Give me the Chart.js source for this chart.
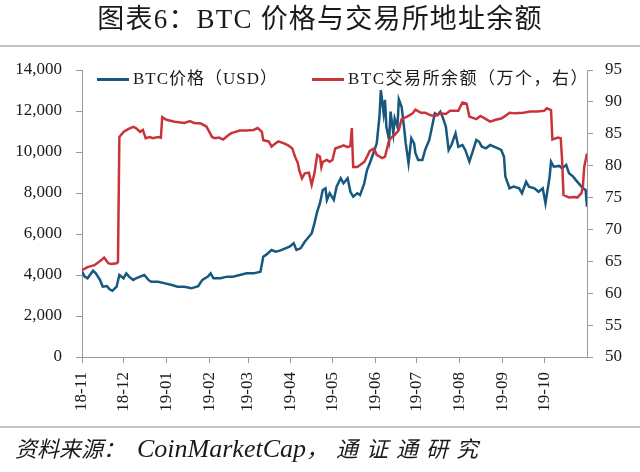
<!DOCTYPE html>
<html lang="zh-CN">
<head>
  <meta charset="UTF-8" />
  <title>BTC 价格与交易所地址余额</title>
  <script src="https://cdn.jsdelivr.net/npm/chart.js"></script>
  <style>
    body {
      margin: 0;
      background: #fff;
      font-family: "Liberation Serif", "Noto Sans CJK SC", serif;
    }
    #wrap {
      position: relative;
      width: 640px;
      height: 472px;
      overflow: hidden;
    }
    #chart {
      position: absolute;
      left: 0;
      top: 0;
    }
    #title {
      position: absolute;
      left: 0;
      top: 3px;
      width: 640px;
      text-align: center;
      font-size: 27px;
      line-height: 32px;
      letter-spacing: 1.2px;
      color: #1a1a1a;
    }
    .rule {
      position: absolute;
      left: 0;
      width: 640px;
      height: 2px;
      background: #c4c4c4;
    }
    .legend {
      position: absolute;
      top: 68px;
      font-size: 17px;
      line-height: 22px;
      color: #1a1a1a;
      white-space: nowrap;
    }
    .legend i {
      display: inline-block;
      width: 32px;
      height: 3px;
      vertical-align: middle;
      margin-right: 4px;
      position: relative;
      top: -1px;
    }
    #source {
      position: absolute;
      left: 15px;
      top: 434px;
      font-size: 22px;
      line-height: 30px;
      font-style: italic;
      color: #1a1a1a;
      white-space: nowrap;
    }
    #source .en { font-size: 26px; margin-left: 12px; }
    #source .tail { letter-spacing: 8px; }
  </style>
</head>
<body>
  <div id="wrap">
    <canvas id="chart" width="640" height="472"></canvas>
    <div id="title">图表6：BTC 价格与交易所地址余额</div>
    <div class="rule" style="top:45px"></div>
    <div class="rule" style="top:426px"></div>
    <div class="legend" style="left:97px; letter-spacing:1px"><i style="background:#17587f"></i>BTC价格（USD）</div>
    <div class="legend" style="left:312px; letter-spacing:1.5px"><i style="background:#c9343b"></i>BTC交易所余额（万个，右）</div>
    <div id="source">资料来源：<span class="en">CoinMarketCap</span><span class="tail">，通证通研究</span></div>
  </div>

  <script>
    // 月份刻度（距 2018-11-01 的天数）
    const monthDays = [0, 30, 61, 92, 120, 151, 181, 212, 242, 273, 304, 334];
    const monthLabels = ['18-11', '18-12', '19-01', '19-02', '19-03', '19-04',
      '19-05', '19-06', '19-07', '19-08', '19-09', '19-10'];

    // BTC价格（USD）
    const priceDays = [0, 2, 4, 8, 10, 13, 15, 18, 20, 22, 25, 27, 30, 32, 34, 37, 39, 42, 45, 48,
      50, 55, 60, 65, 69, 74, 79, 84, 87, 91, 93, 95, 100, 105, 109, 114, 119, 124, 129, 131,
      133, 137, 140, 143, 147, 150, 153, 155, 158, 161, 164, 166, 168, 170, 172, 174, 176, 177, 179, 182,
      184, 187, 189, 192, 194, 196, 199, 201, 204, 206, 208, 211, 213, 215, 216, 218, 219, 220, 222, 223,
      225, 226, 228, 229, 231, 233, 234, 236, 238, 240, 241, 243, 246, 248, 251, 253, 255, 257, 259, 261,
      263, 265, 267, 270, 272, 275, 277, 280, 282, 285, 287, 289, 292, 295, 299, 303, 305, 306, 309, 312,
      316, 318, 321, 323, 327, 330, 333, 335, 338, 339, 341, 345, 347, 350, 352, 355, 357, 359, 362, 364, 365];
    const priceValues = [4160, 3920, 3840, 4210, 4080, 3760, 3430, 3460, 3300, 3230, 3430, 4000, 3840, 4080, 3920, 3760, 3840, 3920, 4000, 3760,
      3670, 3670, 3590, 3510, 3430, 3430, 3350, 3460, 3760, 3920, 4080, 3840, 3840, 3920, 3920, 4000, 4080, 4080, 4160, 4890,
      4980, 5220, 5140, 5190, 5300, 5380, 5550, 5220, 5300, 5620, 5870, 6030, 6520, 7090, 7500, 8150, 8230, 7660, 7990, 7660,
      8310, 8720, 8470, 8720, 8060, 7820, 7990, 7900, 8470, 9120, 9450, 10010, 10420, 11720, 13020, 11890, 12540, 11230, 10590, 11970,
      10910, 11640, 11230, 12570, 12210, 11070, 10420, 9450, 10670, 10420, 9940, 9610, 9610, 10100, 10590, 11230, 11890, 11800, 11970, 11640,
      11230, 10100, 10340, 10910, 10260, 10340, 10100, 9530, 9940, 10590, 10500, 10260, 10180, 10340, 10230, 10100, 9770, 8800, 8230, 8310,
      8230, 7990, 8550, 8310, 8230, 8060, 8230, 7500, 8800, 9530, 9280, 9320, 9200, 9370, 8960, 8800, 8630, 8470, 8230, 8150, 7330];

    // BTC交易所余额（万个，右轴）
    const balanceDays = [0, 4, 9, 14, 16, 19, 21, 25, 26, 27, 30, 33, 37, 39, 42, 44, 46, 49, 51, 55,
      57, 58, 61, 67, 74, 78, 81, 86, 90, 94, 96, 99, 102, 106, 108, 111, 114, 119, 124, 127,
      130, 131, 135, 137, 140, 142, 146, 149, 152, 154, 156, 157, 159, 161, 164, 166, 168, 170, 172, 173,
      174, 177, 179, 181, 183, 187, 189, 192, 194, 195, 196, 199, 201, 204, 206, 208, 211, 213, 217, 219,
      222, 224, 226, 229, 231, 235, 239, 241, 245, 248, 252, 255, 259, 263, 266, 272, 275, 278, 280, 285,
      288, 292, 295, 299, 303, 306, 309, 313, 319, 324, 329, 334, 336, 339, 340, 344, 346, 347, 348, 352,
      356, 358, 361, 362, 363, 365];
    const balanceValues = [63.6, 64.1, 64.4, 65.2, 65.6, 64.7, 64.6, 64.7, 64.9, 84.5, 85.3, 85.7, 86.1, 85.9, 85.3, 85.6, 84.3, 84.5, 84.3, 84.5,
      84.4, 87.6, 87.2, 86.9, 86.7, 87.0, 86.7, 86.6, 86.1, 84.5, 84.3, 84.4, 84.1, 84.8, 85.1, 85.3, 85.5, 85.5, 85.6, 85.9,
      85.3, 84.0, 83.8, 83.0, 83.5, 83.8, 83.5, 83.2, 82.7, 81.4, 80.4, 79.3, 78.0, 78.8, 78.9, 77.0, 78.8, 81.7, 81.4, 79.8,
      80.6, 80.9, 80.6, 80.9, 82.7, 83.0, 83.2, 82.9, 83.1, 85.9, 79.8, 79.8, 80.1, 80.6, 81.4, 82.3, 82.7, 81.7, 81.2, 81.4,
      84.0, 84.5, 84.8, 85.6, 87.3, 87.7, 88.2, 88.8, 88.3, 88.3, 87.9, 87.8, 88.2, 88.1, 88.6, 88.6, 89.9, 89.7, 87.7, 87.3,
      87.8, 87.3, 86.9, 87.2, 87.4, 87.8, 88.3, 88.2, 88.3, 88.5, 88.5, 88.6, 89.0, 88.7, 84.1, 84.4, 84.3, 80.9, 75.4, 75.0,
      75.1, 75.0, 75.7, 76.7, 79.8, 81.9];

    const blue = '#17587f';
    const red = '#c9343b';
    const axisColor = '#9a9a9a';

    Chart.defaults.font.family = '"Liberation Serif", "Noto Sans CJK SC", serif';
    Chart.defaults.font.size = 17;
    Chart.defaults.color = '#1a1a1a';

    const toPoints = (xs, ys) => xs.map((d, i) => ({ x: d, y: ys[i] }));

    new Chart(document.getElementById('chart'), {
      type: 'line',
      data: {
        datasets: [
          {
            label: 'BTC价格（USD）',
            data: toPoints(priceDays, priceValues),
            borderColor: blue,
            backgroundColor: blue,
            borderWidth: 2.5,
            pointRadius: 0,
            yAxisID: 'y',
            order: 1
          },
          {
            label: 'BTC交易所余额（万个，右）',
            data: toPoints(balanceDays, balanceValues),
            borderColor: red,
            backgroundColor: red,
            borderWidth: 2.5,
            pointRadius: 0,
            yAxisID: 'y1',
            order: 0
          }
        ]
      },
      options: {
        responsive: false,
        animation: false,
        layout: { padding: { top: 70, left: 0, right: 0, bottom: 0 } },
        plugins: {
          tooltip: { enabled: false },
          legend: { display: false }
        },
        scales: {
          x: {
            type: 'linear',
            min: 0,
            max: 365,
            afterBuildTicks: (s) => { s.ticks = monthDays.map(v => ({ value: v })); },
            afterFit: (s) => { s.height = 115; },
            ticks: {
              autoSkip: false,
              minRotation: 90,
              maxRotation: 90,
              padding: 9,
              callback: (v) => monthLabels[monthDays.indexOf(v)]
            },
            grid: { drawOnChartArea: false, tickLength: 6, color: axisColor },
            border: { color: axisColor }
          },
          y: {
            position: 'left',
            min: 0,
            max: 14000,
            afterFit: (s) => { s.width = 82; },
            ticks: {
              stepSize: 2000,
              padding: 14,
              callback: (v) => v.toLocaleString('en-US')
            },
            grid: { drawOnChartArea: false, tickLength: 6, color: axisColor },
            border: { color: axisColor }
          },
          y1: {
            position: 'right',
            min: 50,
            max: 95,
            afterFit: (s) => { s.width = 53; },
            ticks: { stepSize: 5, padding: 12 },
            grid: { drawOnChartArea: false, tickLength: 6, color: axisColor },
            border: { color: axisColor }
          }
        }
      }
    });
  </script>
</body>
</html>
